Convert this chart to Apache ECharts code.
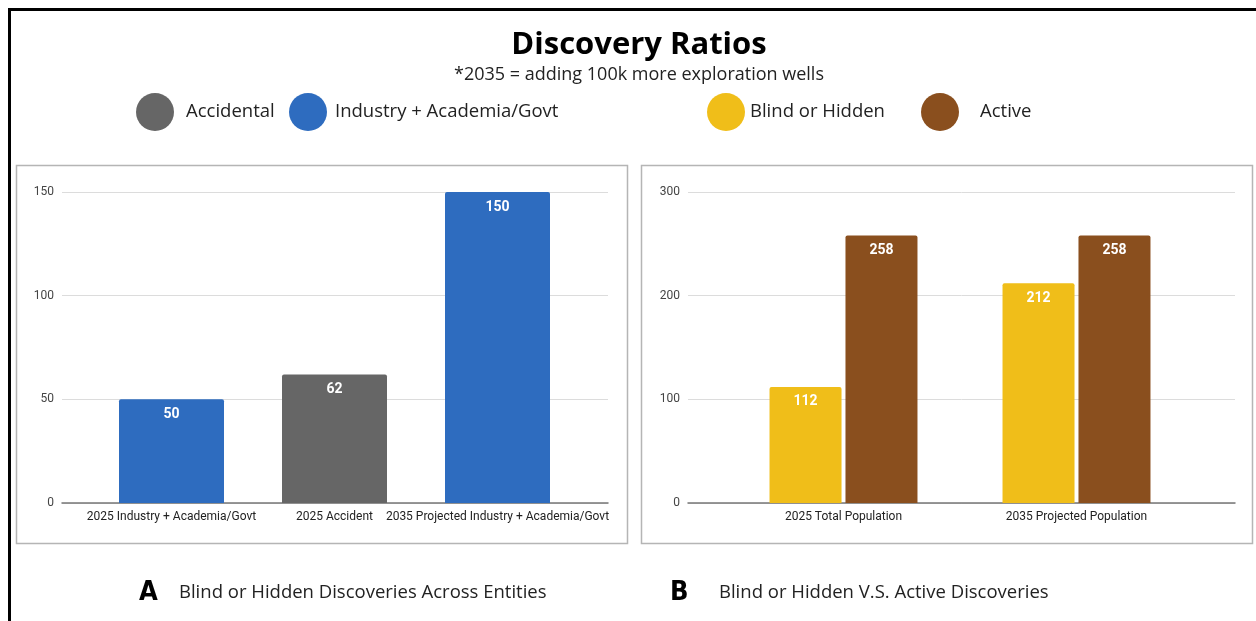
<!DOCTYPE html>
<html>
<head>
<meta charset="utf-8">
<script src="https://cdn.jsdelivr.net/npm/echarts@6/dist/echarts.min.js"></script>
<style>
html,body{margin:0;padding:0;background:#fff;}
#chart{width:1256px;height:621px;}
</style>
</head>
<body>
<div id="chart"></div>
<script>
// ---- data ----
const catsA = ['2025 Industry + Academia/Govt', '2025 Accident', '2035 Projected Industry + Academia/Govt'];
const industryA = [50, null, 150];
const accidentalA = [null, 62, null];
const catsB = ['2025 Total Population', '2035 Projected Population'];
const blindB = [112, 212];
const activeB = [258, 258];
const axisA = { min: 0, max: 150, interval: 50 };
const axisB = { min: 0, max: 300, interval: 100 };
const legendNames = ['Accidental', 'Industry + Academia/Govt', 'Blind or Hidden', 'Active'];
const titleText = 'Discovery Ratios';
const subtitleText = '*2035 = adding 100k more exploration wells';
const captionA = 'Blind or Hidden Discoveries Across Entities';
const captionB = 'Blind or Hidden V.S. Active Discoveries';

const C = { gray: '#666666', blue: '#2e6cbf', yellow: '#f0be19', brown: '#8a4f1e' };
const LEGEND_FONT = '"Open Sans", sans-serif';
const AX_FONT = 'Roboto, "Liberation Sans", sans-serif';

const chart = echarts.init(document.getElementById('chart'), null, { renderer: 'canvas' });

function frameX(gi) {
  return { gridIndex: gi, type: 'value', min: 0, max: 1, show: true,
    axisLine: { show: true, onZero: false, lineStyle: { color: '#777', width: 1.5 } },
    axisTick: { show: false }, axisLabel: { show: false }, splitLine: { show: false } };
}
function frameY(gi, ax) {
  return { gridIndex: gi, type: 'value', min: ax.min, max: ax.max, interval: ax.interval,
    axisLine: { show: false }, axisTick: { show: false },
    axisLabel: { color: '#444', fontSize: 12, fontFamily: AX_FONT, margin: 8 },
    splitLine: { lineStyle: { color: '#dcdcdc', width: 1 } } };
}
function barX(gi, cats) {
  return { gridIndex: gi, type: 'category', data: cats,
    axisLine: { show: false }, axisTick: { show: false },
    axisLabel: { color: '#222', fontSize: 12, fontFamily: AX_FONT, margin: 8, interval: 0 } };
}
function barY(gi, ax) {
  return { gridIndex: gi, type: 'value', min: ax.min, max: ax.max, interval: ax.interval, show: false,
    splitLine: { show: false } };
}
const valLabel = { show: true, position: 'insideTop', distance: 8, color: '#fff',
  fontWeight: 'bold', fontSize: 14, fontFamily: AX_FONT };

function legendItem(name, left, padLeft) {
  return { data: [name], left: left, top: 93, padding: 0, itemWidth: 38, itemHeight: 38,
    icon: 'circle', selectedMode: true,
    textStyle: { fontSize: 18.5, color: '#222', fontFamily: LEGEND_FONT, padding: [0, 0, 0, padLeft] } };
}

const option = {
  backgroundColor: '#fff',
  animation: false,
  title: {
    text: titleText, subtext: subtitleText,
    left: 639, top: 30, textAlign: 'center', itemGap: 5, padding: 0,
    textStyle: { fontSize: 31, fontWeight: 'bold', color: '#000', fontFamily: '"Open Sans", sans-serif' },
    subtextStyle: { fontSize: 18, color: '#222', fontFamily: '"Open Sans", sans-serif' }
  },
  legend: [
    legendItem(legendNames[0], 136, 7),
    legendItem(legendNames[1], 289, 3),
    legendItem(legendNames[2], 707, 0),
    legendItem(legendNames[3], 921, 16)
  ],
  grid: [
    { left: 62, top: 192, width: 546, height: 311 },
    { left: 90, top: 192, width: 489, height: 311 },
    { left: 688, top: 192, width: 547, height: 311 },
    { left: 727, top: 192, width: 466, height: 311 }
  ],
  xAxis: [frameX(0), barX(1, catsA), frameX(2), barX(3, catsB)],
  yAxis: [frameY(0, axisA), barY(1, axisA), frameY(2, axisB), barY(3, axisB)],
  series: [
    { name: legendNames[1], type: 'bar', xAxisIndex: 1, yAxisIndex: 1, data: industryA,
      barWidth: 105, barGap: '-100%', itemStyle: { color: C.blue, borderRadius: [2, 2, 0, 0] }, label: valLabel },
    { name: legendNames[0], type: 'bar', xAxisIndex: 1, yAxisIndex: 1, data: accidentalA,
      barWidth: 105, barGap: '-100%', itemStyle: { color: C.gray, borderRadius: [2, 2, 0, 0] }, label: valLabel },
    { name: legendNames[2], type: 'bar', xAxisIndex: 3, yAxisIndex: 3, data: blindB,
      barWidth: 72, barGap: '5.5%', itemStyle: { color: C.yellow, borderRadius: [2, 2, 0, 0] }, label: valLabel },
    { name: legendNames[3], type: 'bar', xAxisIndex: 3, yAxisIndex: 3, data: activeB,
      barWidth: 72, barGap: '5.5%', itemStyle: { color: C.brown, borderRadius: [2, 2, 0, 0] }, label: valLabel }
  ],
  graphic: [
    { type: 'polyline', silent: true, z: 10,
      shape: { points: [[9.5, 700], [9.5, 9.5], [1300, 9.5]] },
      style: { stroke: '#000', lineWidth: 3, fill: null } },
    { type: 'rect', silent: true, z: -1,
      shape: { x: 16.5, y: 165.5, width: 611, height: 378 },
      style: { fill: null, stroke: '#b5b5b5', lineWidth: 1.5 } },
    { type: 'rect', silent: true, z: -1,
      shape: { x: 641.5, y: 165.5, width: 611, height: 378 },
      style: { fill: null, stroke: '#b5b5b5', lineWidth: 1.5 } },
    { type: 'text', silent: true, left: 139, top: 579,
      style: { text: 'A', fontSize: 27, fontWeight: 'bold', fill: '#000', fontFamily: '"DejaVu Sans Condensed", "Open Sans", sans-serif' } },
    { type: 'text', silent: true, left: 179, top: 583,
      style: { text: captionA, fontSize: 18.5, fill: '#222', fontFamily: LEGEND_FONT } },
    { type: 'text', silent: true, left: 670, top: 579,
      style: { text: 'B', fontSize: 27, fontWeight: 'bold', fill: '#000', fontFamily: '"DejaVu Sans Condensed", "Open Sans", sans-serif' } },
    { type: 'text', silent: true, left: 719, top: 583,
      style: { text: captionB, fontSize: 18.5, fill: '#222', fontFamily: LEGEND_FONT } }
  ]
};
chart.setOption(option);
</script>
</body>
</html>
